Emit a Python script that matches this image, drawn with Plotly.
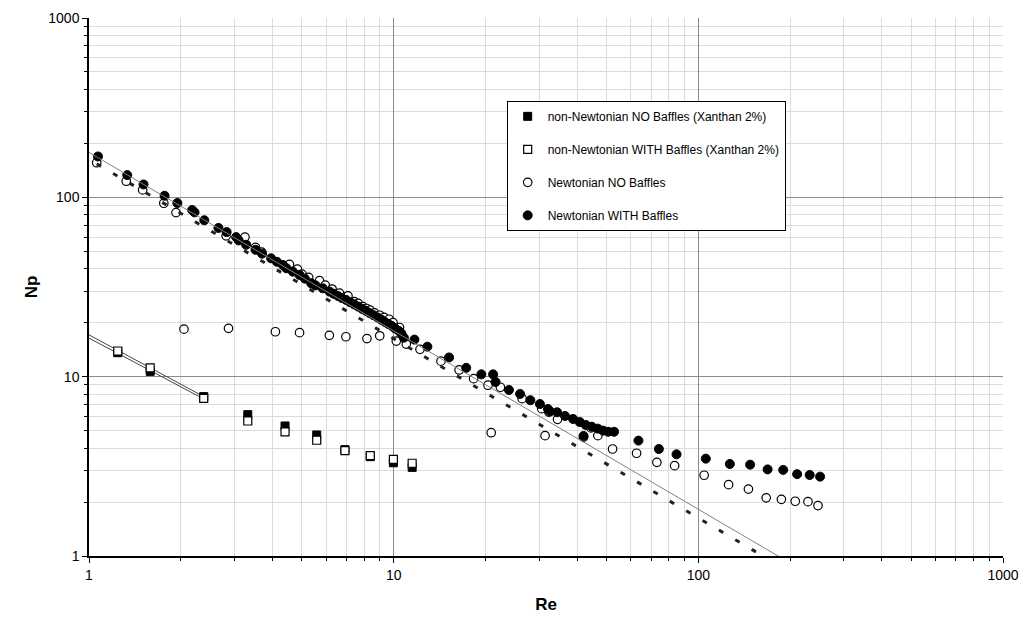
import numpy as np
import plotly.graph_objects as go

# ---------------- data ----------------
re_nn = [1.243, 1.588, 2.38, 3.32, 4.40, 5.59, 6.92, 8.38, 9.98, 11.5]
np_nn_no = [13.6, 10.7, 7.74, 6.14, 5.31, 4.73, 3.92, 3.58, 3.31, 3.12]
np_nn_with = [13.9, 11.2, 7.57, 5.66, 4.92, 4.42, 3.87, 3.63, 3.46, 3.29]

re_newt_no = [1.06, 1.325, 1.50, 1.76, 1.93, 2.82, 3.25, 3.52, 3.69, 4.55, 4.83, 5.0,
              5.26, 5.71, 5.96, 6.28, 6.64, 6.94, 7.08, 7.43, 7.65, 7.93, 8.15, 8.37,
              8.65, 9.0, 9.3, 9.66, 9.95, 10.45, 10.2, 11.0, 12.2, 14.3, 16.4, 18.3,
              20.4, 22.4, 26.4, 30.6, 32.3, 34.5, 44.4,
              2.05, 2.87, 4.09, 4.91, 6.15, 6.97, 8.17, 9.0,
              20.9, 31.4, 42.0, 46.8, 52.3, 62.7, 73.1, 83.6, 104.5, 125.7, 146, 167,
              187.3, 208, 229, 247]
np_newt_no = [156, 123, 110, 92.7, 82.2, 61, 60, 52.6, 49.5, 42.3, 39.8, 37.3,
              35.8, 34.3, 32.4, 30.8, 29.2, 27.9, 28.2, 26.2, 25.6, 24.6, 24.0, 23.5,
              22.7, 22.0, 21.4, 20.9, 20.0, 18.8, 15.8, 15.2, 14.2, 12.2, 10.9, 9.75,
              8.96, 8.73, 7.54, 6.63, 6.35, 5.78, 5.18,
              18.4, 18.6, 17.8, 17.6, 17.0, 16.7, 16.3, 16.9,
              4.87, 4.69, 4.6, 4.69, 3.95, 3.74, 3.33, 3.19, 2.82, 2.50, 2.36, 2.11,
              2.07, 2.02, 2.01, 1.91]

re_newt_with = [1.07, 1.335, 1.51, 1.77, 1.95, 2.18, 2.22, 2.39, 2.66, 2.83, 3.04, 3.1,
                3.28, 3.52, 3.70, 3.96, 4.14, 4.33, 4.45, 4.67, 4.91, 5.11, 5.36, 5.54,
                5.85, 6.16, 6.35, 6.56, 6.75, 6.98, 7.2, 7.42, 7.65, 7.88, 8.1, 8.35,
                8.6, 8.85, 9.1, 9.35, 9.6, 9.85, 10.1, 10.4, 10.6, 10.8, 11.7, 12.9,
                15.2, 17.3, 19.4, 21.2, 21.6, 23.9, 26.0, 28.1, 30.2, 32.1, 32.6, 34.4,
                36.5, 38.8, 40.8, 42.7, 44.7, 46.8, 48.7, 50.6, 52.9, 42.0,
                63.6, 74.2, 84.8, 105.8, 126.9, 147.9, 168.8, 189.9, 211, 232, 251]
np_newt_with = [169, 133, 118, 102, 93, 85, 82.5, 74.5, 67.5, 64, 60, 57.5,
                54.4, 51, 48.5, 45.7, 43.7, 41.9, 40.2, 38.5, 36.9, 35.2, 33.2, 32.3,
                31.1, 29.8, 29.0, 28.2, 27.5, 26.8, 26.0, 25.3, 24.6, 23.9, 23.3, 22.6,
                22.0, 21.4, 20.8, 20.2, 19.7, 19.2, 18.6, 18.0, 17.4, 16.5, 16.1, 14.7,
                12.8, 11.2, 10.3, 10.3, 9.34, 8.43, 8.01, 7.39, 7.04, 6.6, 6.4, 6.33,
                6.04, 5.81, 5.59, 5.38, 5.26, 5.13, 5.0, 4.93, 4.93, 4.67,
                4.40, 3.95, 3.69, 3.49, 3.26, 3.23, 3.04, 3.02, 2.86, 2.83, 2.77]

# power-law trendlines Np = k * Re^n  (k, n, Re start, Re end)
fit_solid = (178.0, -0.995, 1.0, 200.0)
fit_dash = (163.0, -1.0, 1.06, 170.0)
fit_nn_a = (17.1, -0.913, 1.0, 2.38)
fit_nn_b = (16.4, -0.90, 1.0, 2.40)

FONT = "Liberation Sans, Arial, sans-serif"


def fit_line(p):
    k, n, r0, r1 = p
    re = np.logspace(np.log10(r0), np.log10(r1), 60)
    return re, k * re ** n


fig = go.Figure()

for p in (fit_nn_a, fit_nn_b):
    x, y = fit_line(p)
    fig.add_trace(go.Scatter(x=x, y=y, mode="lines", showlegend=False, hoverinfo="skip",
                             line=dict(color="#444444", width=1)))

fig.add_trace(go.Scatter(x=re_nn, y=np_nn_no, mode="markers",
                         name="non-Newtonian NO Baffles (Xanthan 2%)", legendgroup="a",
                         marker=dict(symbol="square", size=8, color="black",
                                     line=dict(color="black", width=1))))
fig.add_trace(go.Scatter(x=re_nn, y=np_nn_with, mode="markers",
                         name="non-Newtonian WITH Baffles (Xanthan 2%)", legendgroup="b",
                         marker=dict(symbol="square", size=8, color="white",
                                     line=dict(color="black", width=1.2))))
fig.add_trace(go.Scatter(x=re_newt_no, y=np_newt_no, mode="markers",
                         name="Newtonian NO Baffles", legendgroup="c",
                         marker=dict(symbol="circle", size=8.5, color="white",
                                     line=dict(color="black", width=1.2))))
fig.add_trace(go.Scatter(x=re_newt_with, y=np_newt_with, mode="markers",
                         name="Newtonian WITH Baffles", legendgroup="d",
                         marker=dict(symbol="circle", size=9, color="black",
                                     line=dict(color="black", width=1))))

x, y = fit_line(fit_solid)
fig.add_trace(go.Scatter(x=x, y=y, mode="lines", showlegend=False, hoverinfo="skip",
                         line=dict(color="#808080", width=1)))
x, y = fit_line(fit_dash)
fig.add_trace(go.Scatter(x=x, y=y, mode="lines", showlegend=False, hoverinfo="skip",
                         line=dict(color="#222222", width=3, dash="5px,14px")))

major = [1, 10, 100, 1000]
minor_vals = [m * 10 ** e for e in range(3) for m in range(2, 10)]

axis_common = dict(
    type="log", range=[0, 3], tickvals=major, ticktext=[str(v) for v in major],
    showgrid=True, gridcolor="#8c8c8c", gridwidth=1,
    ticks="outside", ticklen=5, tickcolor="black", tickwidth=1,
    showline=True, linecolor="black", linewidth=1.5,
    tickfont=dict(family=FONT, size=14, color="black"),
    minor=dict(tickvals=minor_vals, showgrid=True, gridcolor="#dcdcdc", gridwidth=1,
               ticks="outside", ticklen=3, tickcolor="black"),
    zeroline=False, automargin=False,
)

fig.update_layout(
    width=1020, height=619,
    margin=dict(l=89, r=17, t=18, b=63),
    paper_bgcolor="white", plot_bgcolor="white",
    font=dict(family=FONT, color="black"),
    xaxis=dict(axis_common, title=dict(text="<b>Re</b>", font=dict(family=FONT, size=17), standoff=17)),
    yaxis=dict(axis_common, title=dict(text="<b>Np</b>", font=dict(family=FONT, size=17), standoff=6)),
    legend=dict(x=0.457, y=0.846, xanchor="left", yanchor="top",
                bgcolor="white", bordercolor="black", borderwidth=1,
                font=dict(family=FONT, size=12, color="black"),
                tracegroupgap=14, itemsizing="trace"),
    showlegend=True,
)

fig.write_html("out.html")
